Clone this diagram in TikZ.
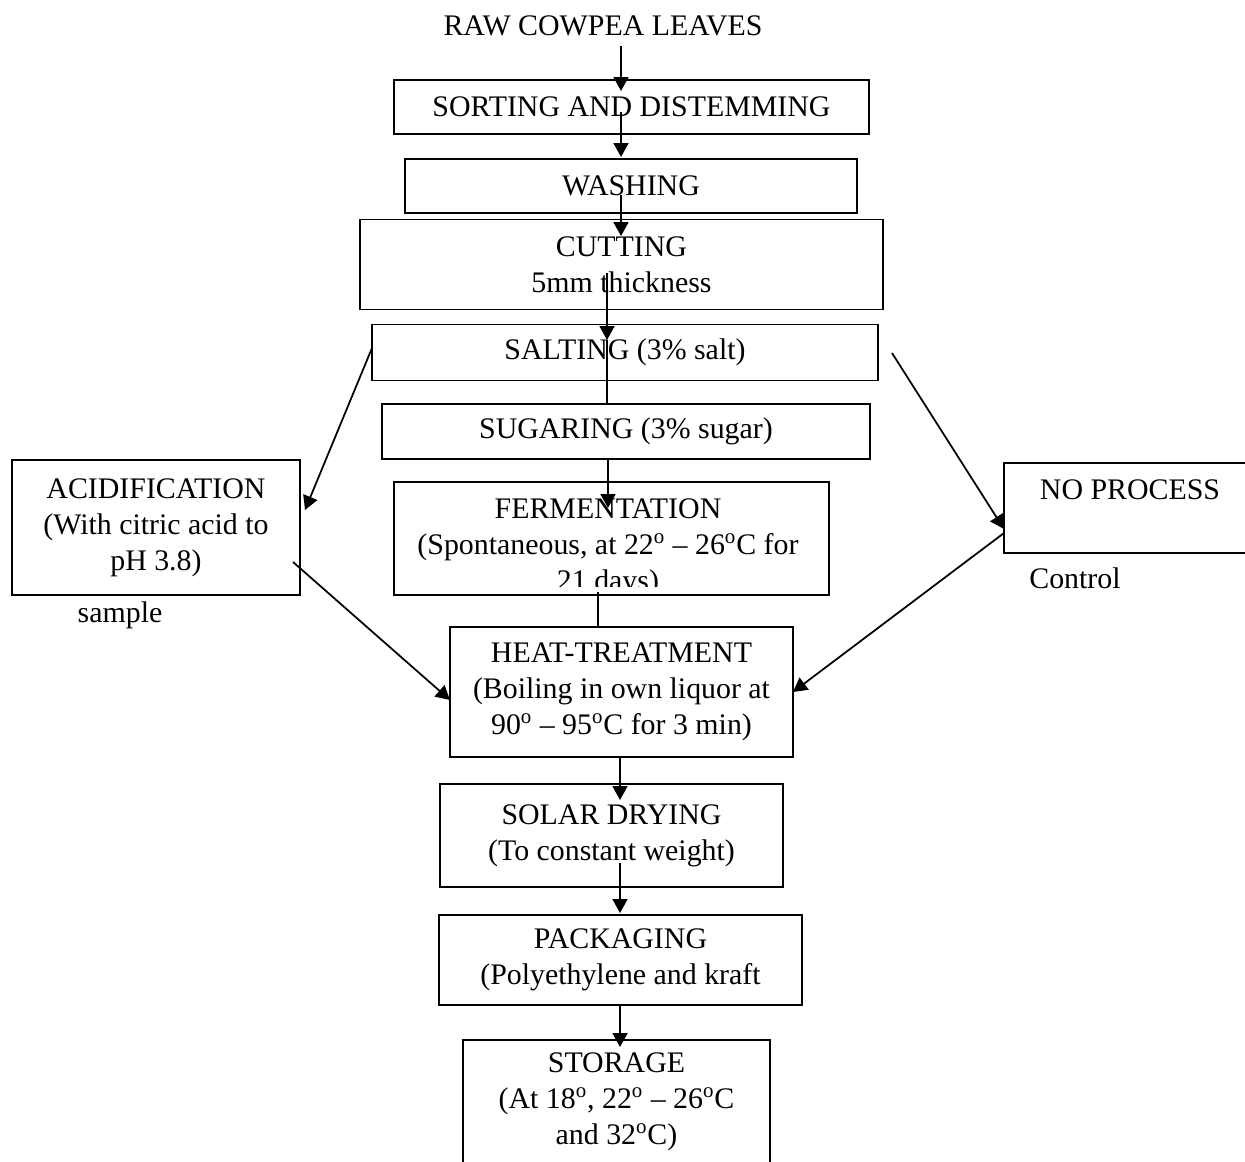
\documentclass[tikz,border=0pt]{standalone}
\usepackage{fontspec}
\setmainfont{Liberation Serif}
\usetikzlibrary{arrows.meta}

\begin{document}
\begin{tikzpicture}[x=0.02cm,y=-0.02cm,
  box/.style={draw,line width=1pt,inner sep=0pt,align=center,font=\fontsize{17}{20.5}\selectfont},
  txt/.style={inner sep=0pt,align=center,font=\fontsize{17}{20.5}\selectfont},
  flow/.style={-{Triangle[length=0.28cm,width=0.3cm]},line width=1pt},
  plain/.style={line width=1pt}]
\clip (0,0) rectangle (1245,1161);

% main column
\node[txt] (raw) at (603,26) {RAW COWPEA LEAVES};
\node[box,minimum width=9.5cm,minimum height=1.08cm] (sort) at (631.5,107) {SORTING AND DISTEMMING};
\node[box,minimum width=9.04cm,minimum height=1.08cm] (wash) at (631,186) {WASHING};
\node[box,minimum width=10.46cm,minimum height=1.8cm] (cut) at (621.5,264.5) {CUTTING\\5mm thickness};
\node[box,minimum width=10.12cm,minimum height=1.12cm] (salt) at (625,352.5) {SALTING (3\% salt)};
\node[box,minimum width=9.76cm,minimum height=1.1cm] (sugar) at (626,431.5) {SUGARING (3\% sugar)};
\node[box,minimum width=8.7cm,minimum height=2.26cm] (ferm) at (611.5,538.5) {};
\begin{scope}
\clip (394,482) rectangle (829,586);
\node[txt] (fermtxt) at (608,548) {FERMENTATION\\(Spontaneous, at 22\textsuperscript{o} -- 26\textsuperscript{o}C for\\21 days)};
\end{scope}
\node[box,minimum width=6.86cm,minimum height=2.6cm] (heat) at (621.5,692) {HEAT-TREATMENT\\(Boiling in own liquor at\\90\textsuperscript{o} -- 95\textsuperscript{o}C for 3 min)};
\node[box,minimum width=6.86cm,minimum height=2.06cm] (solar) at (611.5,835.5) {SOLAR DRYING\\(To constant weight)};
\node[box,minimum width=7.26cm,minimum height=1.8cm] (pack) at (620.5,960) {PACKAGING\\(Polyethylene and kraft};
\node[box,minimum width=6.14cm,minimum height=2.48cm] (store) at (616.5,1102) {STORAGE\\(At 18\textsuperscript{o}, 22\textsuperscript{o} -- 26\textsuperscript{o}C\\and 32\textsuperscript{o}C)};

% side branches
\node[box,minimum width=5.76cm,minimum height=2.7cm] (acid) at (156,527.5) {ACIDIFICATION\\(With citric acid to\\pH 3.8)};
\node[txt] (sample) at (120,615) {sample};
\node[box,minimum width=5.04cm,minimum height=1.8cm] (nopro) at (1130,508) {NO PROCESS\\\mbox{}};
\node[txt] (control) at (1075,578) {Control};

% connector ends
\coordinate (rawout) at (621,46);
\coordinate (sortin) at (621,91);
\coordinate (sortout) at (621,112);
\coordinate (washin) at (621,157);
\coordinate (washout) at (621,195);
\coordinate (cutin) at (621,236);
\coordinate (cutout) at (607,273);
\coordinate (saltin) at (607,340);
\coordinate (sugartop) at (607,404);
\coordinate (sugarout) at (608,458);
\coordinate (fermin) at (608,508);
\coordinate (fermout) at (598,592);
\coordinate (heattop) at (598,627);
\coordinate (saltleft) at (372,348);
\coordinate (acidin) at (305,510);
\coordinate (acidout) at (293,562);
\coordinate (heatleft) at (450,700);
\coordinate (saltright) at (892,353);
\coordinate (noproin) at (1004,529);
\coordinate (noproout) at (1004,533);
\coordinate (heatright) at (793,692);
\coordinate (heatout) at (620,757);
\coordinate (solarin) at (620,800);
\coordinate (solarout) at (620,863);
\coordinate (packin) at (620,913);
\coordinate (packout) at (620,1005);
\coordinate (storein) at (620,1047);

\draw[flow] (rawout) -- (sortin);
\draw[flow] (sortout) -- (washin);
\draw[flow] (washout) -- (cutin);
\draw[flow] (cutout) -- (saltin);
\draw[plain] (saltin) -- (sugartop);
\draw[flow] (sugarout) -- (fermin);
\draw[plain] (fermout) -- (heattop);
\draw[flow] (saltleft) -- (acidin);
\draw[flow] (acidout) -- (heatleft);
\draw[flow] (saltright) -- (noproin);
\draw[flow] (noproout) -- (heatright);
\draw[flow] (heatout) -- (solarin);
\draw[flow] (solarout) -- (packin);
\draw[flow] (packout) -- (storein);
\end{tikzpicture}
\end{document}
